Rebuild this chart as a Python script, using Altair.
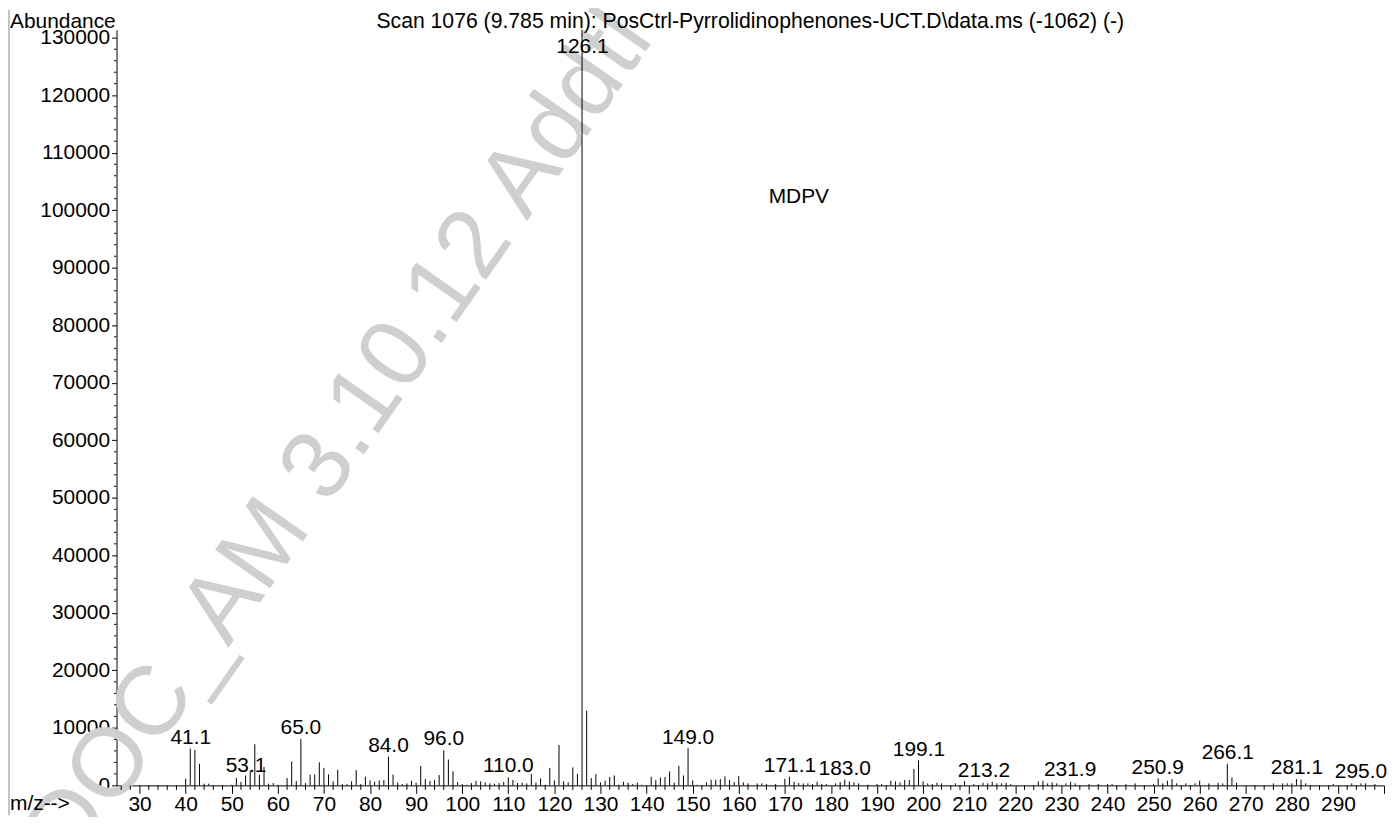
import altair as alt
import pandas as pd

# ---------------- data ----------------
mz = [40, 41, 42, 43, 44, 45, 50, 51, 52, 53, 54, 55, 56, 57, 58, 59, 60,
      62, 63, 64, 65, 66, 67, 68, 69, 70, 71, 72, 73, 74, 75, 76, 77, 78, 79,
      80, 81, 82, 83, 84, 85, 86, 87, 88, 89, 90, 91, 92, 93, 94, 95, 96, 97,
      98, 99, 100, 101, 102, 103, 104, 105, 106, 107, 108, 109, 110, 111, 112,
      113, 114, 115, 116, 117, 118, 119, 120, 121, 122, 123, 124, 125, 126,
      127, 128, 129, 130, 131, 132, 133, 134, 135, 136, 137, 138, 139, 141,
      142, 143, 144, 145, 146, 147, 148, 149, 150, 151, 153, 154, 155, 156,
      157, 158, 159, 160, 161, 162, 164, 165, 166, 168, 170, 171, 172, 173,
      174, 175, 176, 177, 178, 179, 181, 182, 183, 184, 185, 186, 188, 190,
      191, 193, 194, 195, 196, 197, 198, 199, 200, 201, 202, 203, 204, 207,
      209, 211, 213, 214, 215, 216, 217, 218, 219, 225, 226, 227, 228, 229,
      231, 232, 233, 236, 238, 240, 241, 244, 246, 250, 251, 252, 253, 254,
      255, 257, 259, 260, 262, 264, 265, 266, 267, 268, 276, 278, 279, 280,
      281, 282, 283, 289, 293, 295, 296, 298]
abundance = [1150, 6400, 6150, 3750, 300, 300, 120, 1300, 600, 1700, 2600, 7150,
             1850, 3170, 300, 400, 120,
             1270, 4150, 750, 8080, 400, 1850, 1900, 4000, 3050, 1900, 690, 2700,
             230, 230, 690, 2650, 230, 1500,
             860, 630, 860, 920, 5000, 1850, 460, 230, 350, 800, 460, 3400, 1100,
             750, 920, 1790, 6100, 4500,
             2450, 580, 230, 120, 400, 800, 700, 520, 350, 290, 400, 580, 1380,
             920, 400,
             460, 350, 2000, 500, 1200, 120, 3000, 870, 7040, 690, 520, 3120, 2020,
             131400,
             12980, 1270, 1960, 520, 810, 1440, 1730, 120, 630, 460, 230, 460, 120,
             1500,
             920, 1380, 1440, 2420, 460, 3400, 1730, 6460, 870, 120, 520, 980, 980,
             1100,
             1560, 920, 580, 1620, 520, 350, 350, 350, 230, 230, 1150, 1500, 630,
             400,
             350, 350, 230, 630, 230, 230, 350, 580, 980, 690, 520, 350, 120, 230,
             230, 810, 690, 520, 920, 920, 2850, 4330, 690, 350, 230, 460, 350, 350,
             750, 230, 460, 350, 630, 350, 350, 460, 230, 690, 810, 350, 520, 350,
             350, 630, 350, 230, 230, 230, 230, 230, 350, 230, 1210, 350, 810, 1100,
             350, 350, 350, 810, 350, 460, 350, 3750, 1380, 460, 350, 350, 350, 350,
             1100, 980, 350, 230, 350, 350, 350, 230]

label_text = ["41.1", "53.1", "65.0", "84.0", "96.0", "110.0", "126.1", "149.0",
              "171.1", "183.0", "199.1", "213.2", "231.9", "250.9", "266.1",
              "281.1", "295.0"]
label_mz = [41.1, 53.1, 65.0, 84.0, 96.0, 110.0, 126.1, 149.0, 171.1, 183.0,
            199.1, 213.2, 231.9, 250.9, 266.1, 281.1, 295.0]
label_abund = [7120, 2410, 8900, 5860, 7000, 2240, 127400, 7170, 2240, 1780,
               5170, 1380, 1600, 1900, 4530, 1950, 1260]

x_major = list(range(30, 301, 10))
x_minor = [v for v in range(26, 300, 2) if v % 10 != 0]
y_major = list(range(0, 130001, 10000))
y_minor = [v for v in range(2000, 130000, 2000) if v % 10000 != 0]

title_text = "Scan 1076 (9.785 min): PosCtrl-Pyrrolidinophenones-UCT.D\\data.ms (-1062) (-)"
sample_text = "MDPV"
y_title = "Abundance"
x_title = "m/z-->"
watermark_text = "DOC_AM 3.10.12 Addtl"

FONT = "Liberation Sans"
FS = 21
W, H = 1273, 759
PAD_TOP = 20

xscale = alt.Scale(domain=[25, 300], nice=False, zero=False)
yscale = alt.Scale(domain=[0, 131400], nice=False, zero=True)

peaks = pd.DataFrame({"mz": mz, "abundance": abundance})
labels = pd.DataFrame({"mz": label_mz, "abundance": label_abund, "text": label_text})

x_axis = alt.Axis(values=x_major, title=None, grid=False, tickSize=8,
                  labelPadding=17, labelBaseline="alphabetic", labelFontSize=FS,
                  labelFont=FONT, labelColor="black", domainColor="black",
                  tickColor="black", labelFlush=False, labelOverlap=False,
                  labelExpr="datum.value == 300 ? '' : datum.label")
y_axis = alt.Axis(values=y_major, title=None, grid=False, tickSize=5,
                  labelPadding=2, labelFontSize=FS, labelFont=FONT,
                  labelColor="black", domainColor="black", tickColor="black",
                  format="d", labelFlush=False, labelOverlap=False)

one = pd.DataFrame({"k": [0]})

watermark = alt.Chart(pd.DataFrame({"t": [watermark_text]})).mark_text(
    font=FONT, fontSize=98, color="#cfcfcf", align="left",
    baseline="alphabetic", angle=305
).encode(x=alt.value(-44), y=alt.value(844), text="t:N")

frame = alt.Chart(one).mark_rule(color="#8a8a8a", strokeWidth=1).encode(
    x=alt.value(-108), y=alt.value(-PAD_TOP), y2=alt.value(789))

bars = alt.Chart(peaks).mark_rule(color="black", strokeWidth=1).encode(
    x=alt.X("mz:Q", scale=xscale, axis=x_axis),
    y=alt.Y("abundance:Q", scale=yscale, axis=y_axis),
    y2=alt.datum(0),
)

xminor = alt.Chart(pd.DataFrame({"v": x_minor})).mark_rule(
    color="black", strokeWidth=1).encode(
    x=alt.X("v:Q", scale=xscale), y=alt.value(H), y2=alt.value(H + 4.5))

yminor = alt.Chart(pd.DataFrame({"v": y_minor})).mark_rule(
    color="black", strokeWidth=1).encode(
    y=alt.Y("v:Q", scale=yscale), x=alt.value(-2.5), x2=alt.value(0))

peak_labels = alt.Chart(labels).mark_text(
    font=FONT, fontSize=FS, color="black", align="center",
    baseline="alphabetic").encode(
    x=alt.X("mz:Q", scale=xscale), y=alt.Y("abundance:Q", scale=yscale),
    text="text:N")

def free_text(txt, x, y, align, size=FS):
    return alt.Chart(pd.DataFrame({"t": [txt]})).mark_text(
        font=FONT, fontSize=size, color="black", align=align,
        baseline="alphabetic").encode(x=alt.value(x), y=alt.value(y), text="t:N")

title = free_text(title_text, W / 2, -2, "center", 21.3)
ylab = free_text(y_title, -107, -2, "left")
xlab = free_text(x_title, -107, 784, "left")
sample = free_text(sample_text, 655, 174, "left")

chart = alt.layer(
    watermark, frame, bars, xminor, yminor, peak_labels, title, ylab, xlab, sample
).properties(
    width=W, height=H,
    padding={"left": 109, "top": PAD_TOP, "right": 5, "bottom": 30},
    autosize=alt.AutoSizeParams(type="none"),
    background="white",
).configure_view(stroke=None)

chart.save("out.html", embed_options={"renderer": "svg", "actions": False})
